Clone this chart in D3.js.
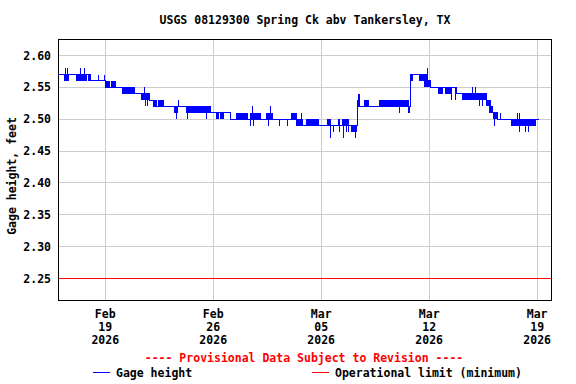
<!DOCTYPE html>
<html>
<head>
<meta charset="utf-8">
<script src="https://cdn.jsdelivr.net/npm/d3@7"></script>
<style>
  body { margin: 0; background: #fff; }
  svg text { font-family: "DejaVu Sans Mono", monospace; font-weight: bold; font-size: 11.5px; }
</style>
</head>
<body>
<svg width="576" height="384"></svg>
<script>
// times are in days since 2026-02-16 00:00 (UTC)
var T0 = Date.UTC(2026, 1, 16);

// gage height level changes [day, feet]
var levelChanges = [
    [0, 2.57], [2.05, 2.56], [3.02, 2.55], [4.15, 2.54], [5.84, 2.53],
    [6.13, 2.52], [9.81, 2.51], [11.11, 2.50], [15.39, 2.49], [19.37, 2.52],
    [22.79, 2.57], [23.9, 2.56], [24.09, 2.55], [25.8, 2.54], [27.72, 2.53],
    [27.9, 2.52], [28.1, 2.51], [28.4, 2.50], [31.11, 2.50]
];

// periods where the reading flips between two levels [dayFrom, dayTo, low, high]
var flipBands = [
    [0.34, 0.645, 2.56, 2.57], [1.118, 1.81, 2.56, 2.57], [1.88, 2.0, 2.56, 2.57],
    [3.02, 3.28, 2.55, 2.56], [3.39, 3.71, 2.55, 2.56], [4.15, 4.93, 2.54, 2.55],
    [5.335, 5.835, 2.53, 2.54], [6.13, 6.355, 2.52, 2.53], [6.44, 6.83, 2.52, 2.53],
    [7.475, 7.715, 2.51, 2.52], [8.21, 9.765, 2.51, 2.52],
    [10.2, 10.375, 2.50, 2.51], [10.455, 10.67, 2.50, 2.51], [11.5, 12.26, 2.50, 2.51],
    [12.41, 13.12, 2.50, 2.51], [13.4, 13.88, 2.50, 2.51], [15.065, 15.39, 2.50, 2.51],
    [15.39, 15.825, 2.49, 2.50], [16.04, 16.885, 2.49, 2.50], [17.385, 17.64, 2.49, 2.50],
    [18.095, 18.245, 2.49, 2.50], [18.375, 18.83, 2.49, 2.50], [18.94, 19.33, 2.48, 2.49],
    [19.33, 19.545, 2.52, 2.53], [19.76, 20.08, 2.52, 2.53], [20.73, 22.68, 2.52, 2.53],
    [22.8, 22.96, 2.56, 2.57], [23.37, 23.935, 2.56, 2.57], [23.695, 24.085, 2.55, 2.56],
    [24.585, 24.91, 2.54, 2.55], [25.01, 25.51, 2.54, 2.55], [26.1, 27.72, 2.53, 2.54],
    [27.67, 28.0, 2.52, 2.53], [27.85, 28.11, 2.51, 2.52], [28.11, 28.48, 2.50, 2.51],
    [29.275, 30.425, 2.49, 2.50], [30.49, 30.9, 2.49, 2.50]
];

// single readings off the running level [day, feet]
var spikes = [
    [0.405, 2.58], [0.535, 2.58], [1.41, 2.58], [1.637, 2.58], [2.59, 2.57], [2.955, 2.57],
    [5.55, 2.55], [5.615, 2.52], [5.745, 2.52], [7.65, 2.50], [7.755, 2.53],
    [8.365, 2.50], [9.55, 2.50], [12.425, 2.49], [12.535, 2.52], [12.62, 2.49],
    [13.595, 2.49], [13.725, 2.52], [14.31, 2.49], [14.79, 2.49], [15.43, 2.51], [15.715, 2.51],
    [17.6, 2.47], [17.77, 2.48], [18.18, 2.48], [18.42, 2.47], [18.615, 2.48], [18.745, 2.48],
    [19.22, 2.47], [19.43, 2.54], [19.5, 2.54], [22.095, 2.51], [22.65, 2.51], [22.72, 2.51],
    [23.87, 2.58], [25.465, 2.53], [25.685, 2.53], [26.81, 2.55], [27.0, 2.55],
    [27.285, 2.52], [27.46, 2.52], [28.26, 2.49], [28.645, 2.51],
    [29.71, 2.51], [29.84, 2.51], [29.88, 2.48], [30.255, 2.48], [30.425, 2.48]
];

var limitValue = 2.25;
var yTicks = [2.25, 2.30, 2.35, 2.40, 2.45, 2.50, 2.55, 2.60];
var xTickDays = [3, 10, 17, 24, 31];
var xTickLabels = [["Feb", "19", "2026"], ["Feb", "26", "2026"], ["Mar", "05", "2026"],
                   ["Mar", "12", "2026"], ["Mar", "19", "2026"]];

function dayToDate(d) { return new Date(T0 + d * 864e5); }

var plotLeft = 58.5, plotRight = 551.5, plotTop = 39.5, plotBottom = 300.5;

var x = d3.scaleUtc()
    .domain([dayToDate(-0.03), dayToDate(31.93)]).range([plotLeft, plotRight]);
var y = d3.scaleLinear()
    .domain([2.2155, 2.6251]).range([plotBottom, plotTop]);

function snap(v) { return Math.round(v - 0.5) + 0.5; }

var svg = d3.select('svg');

// grid
svg.append('g').selectAll('line').data(yTicks).join('line')
    .attr('x1', plotLeft).attr('x2', plotRight)
    .attr('y1', d => snap(y(d))).attr('y2', d => snap(y(d)))
    .attr('stroke', '#cccccc');

svg.append('g').selectAll('line').data(xTickDays).join('line')
    .attr('x1', d => snap(x(dayToDate(d)))).attr('x2', d => snap(x(dayToDate(d))))
    .attr('y1', plotTop).attr('y2', plotBottom)
    .attr('stroke', '#cccccc');

// operational limit
svg.append('line')
    .attr('x1', plotLeft).attr('x2', plotRight)
    .attr('y1', snap(y(limitValue))).attr('y2', snap(y(limitValue)))
    .attr('stroke', '#ff0000');

// data
var plot = svg.append('g').attr('shape-rendering', 'crispEdges');

plot.selectAll('rect').data(flipBands).join('rect')
    .attr('x', d => x(dayToDate(d[0])))
    .attr('width', d => x(dayToDate(d[1])) - x(dayToDate(d[0])))
    .attr('y', d => y(d[3]))
    .attr('height', d => y(d[2]) - y(d[3]))
    .attr('fill', '#0000ff');

var bisect = d3.bisector(d => d[0]).right;
function levelAt(day) { return levelChanges[Math.max(0, bisect(levelChanges, day) - 1)][1]; }

plot.selectAll('line.spike').data(spikes).join('line')
    .attr('class', 'spike')
    .attr('x1', d => x(dayToDate(d[0]))).attr('x2', d => x(dayToDate(d[0])))
    .attr('y1', d => y(levelAt(d[0]))).attr('y2', d => y(d[1]))
    .attr('stroke', '#0000ff');

plot.append('path')
    .datum(levelChanges)
    .attr('fill', 'none')
    .attr('stroke', '#0000ff')
    .attr('d', d3.line().curve(d3.curveStepAfter)
        .x(d => x(dayToDate(d[0]))).y(d => y(d[1])));

// frame
svg.append('rect')
    .attr('x', plotLeft).attr('y', plotTop)
    .attr('width', plotRight - plotLeft).attr('height', plotBottom - plotTop)
    .attr('fill', 'none').attr('stroke', '#000');

// axis labels
svg.append('g').selectAll('text').data(yTicks).join('text')
    .attr('x', 51).attr('y', d => y(d)).attr('dy', '0.35em')
    .attr('text-anchor', 'end')
    .text(d => d.toFixed(2));

var xl = svg.append('g').selectAll('text').data(xTickDays).join('text')
    .attr('text-anchor', 'middle');
xl.each(function(d, i) {
    var t = d3.select(this);
    xTickLabels[i].forEach(function(s, j) {
        t.append('tspan').attr('x', x(dayToDate(d))).attr('y', 314 + j * 13)
            .attr('dy', '0.35em').text(s);
    });
});

svg.append('text')
    .attr('transform', 'translate(12,176) rotate(-90)')
    .attr('text-anchor', 'middle').attr('dy', '0.35em')
    .text('Gage height, feet');

svg.append('text')
    .attr('x', 305).attr('y', 20).attr('dy', '0.35em')
    .attr('text-anchor', 'middle')
    .text('USGS 08129300 Spring Ck abv Tankersley, TX');

svg.append('text')
    .attr('x', 304).attr('y', 358).attr('dy', '0.35em')
    .attr('text-anchor', 'middle').attr('fill', '#ff0000')
    .text('---- Provisional Data Subject to Revision ----');

// legend
svg.append('line').attr('x1', 93).attr('x2', 110).attr('y1', 372.5).attr('y2', 372.5)
    .attr('stroke', '#0000ff');
svg.append('text').attr('x', 116).attr('y', 373).attr('dy', '0.35em').text('Gage height');
svg.append('line').attr('x1', 312).attr('x2', 329).attr('y1', 372.5).attr('y2', 372.5)
    .attr('stroke', '#ff0000');
svg.append('text').attr('x', 335).attr('y', 373).attr('dy', '0.35em').text('Operational limit (minimum)');
</script>
</body>
</html>
